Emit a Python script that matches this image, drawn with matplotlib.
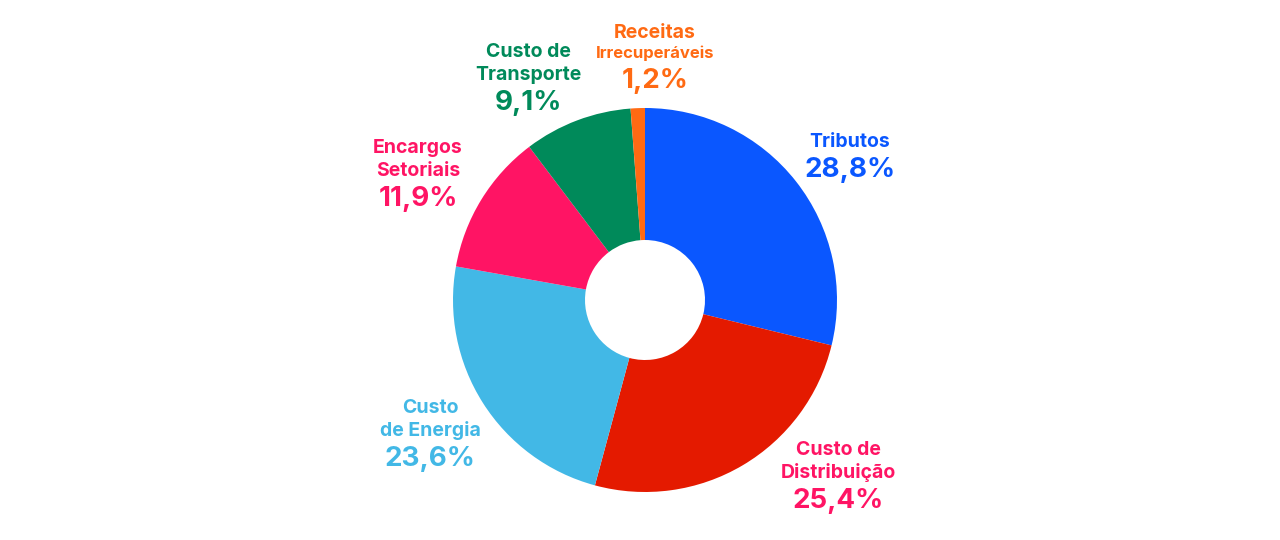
import matplotlib
matplotlib.use("Agg")
import matplotlib.pyplot as plt

categories = ["Tributos", "Custo de Distribuição", "Custo de Energia", "Encargos Setoriais", "Custo de Transporte", "Receitas Irrecuperáveis"]
values = [28.8, 25.4, 23.6, 11.9, 9.1, 1.2]
colors = ["#0a57ff", "#e41a00", "#42b8e6", "#ff1464", "#008a5a", "#ff6a13"]
label_colors = ["#0a57ff", "#ff1464", "#42b8e6", "#ff1464", "#008a5a", "#ff6a13"]
label_lines = [["Tributos"], ["Custo de", "Distribuição"], ["Custo", "de Energia"],
               ["Encargos", "Setoriais"], ["Custo de", "Transporte"], ["Receitas", "Irrecuperáveis"]]
label_pos = [(850, 142), (838, 450), (430, 408), (418, 148), (528, 52), (655, 33)]

fig = plt.figure(figsize=(12.8, 5.4), dpi=100)
ax = fig.add_axes([0, 0, 1, 1])
ax.set_xlim(0, 1280); ax.set_ylim(0, 540); ax.set_aspect("equal"); ax.axis("off")
W = 192
ax.pie(values, colors=colors, startangle=90, counterclock=False, center=(645, 240), radius=W,
       wedgeprops=dict(width=W - 60, linewidth=0), frame=True)
ax.set_xlim(0, 1280); ax.set_ylim(0, 540); ax.axis("off")

font = "Inter"
for lines, (x, y), c, v in zip(label_lines, label_pos, label_colors, values):
    yy = y
    for i, ln in enumerate(lines):
        size = 12 if ln == "Irrecuperáveis" else 14
        ax.text(x, 540 - yy, ln, ha="center", va="center", fontsize=size, fontweight="bold", color=c, family=font)
        yy += 20 if ln == "Receitas" else 23
    ax.text(x, 540 - (yy + 5), f"{v:.1f}%".replace(".", ","), ha="center", va="center",
            fontsize=20, fontweight="bold", color=c, family=font)

fig.savefig("out.png", dpi=100, facecolor="white")
